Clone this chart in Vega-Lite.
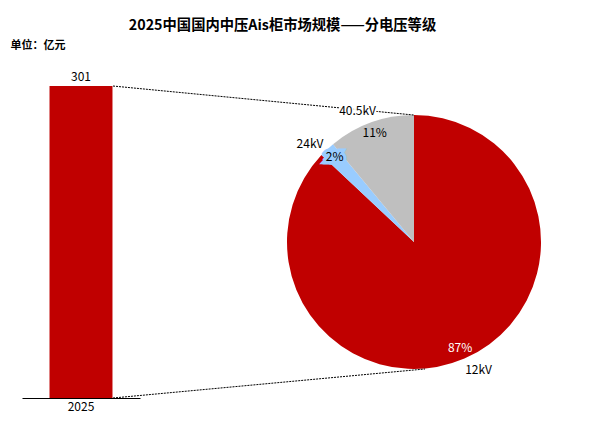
{
  "$schema": "https://vega.github.io/schema/vega-lite/v6.json",
  "width": 605,
  "height": 358,
  "autosize": {"type": "none"},
  "padding": {"top": 40, "left": 0, "right": 0, "bottom": 31},
  "background": "white",
  "config": {"view": {"stroke": null}, "font": "Noto Sans CJK SC", "text": {"font": "Noto Sans CJK SC"}},
  "title": {"text": "2025中国国内中压Ais柜市场规模——分电压等级", "fontSize": 14.3, "fontWeight": "bold", "color": "#000000", "font": "Noto Sans CJK SC", "anchor": "middle", "frame": "group", "dx": -20, "offset": 6},
  "datasets": {
    "market": [{"年份": "2025", "市场规模": 301}],
    "share": [
      {"电压等级": "12kV", "占比": 0.87},
      {"电压等级": "24kV", "占比": 0.02},
      {"电压等级": "40.5kV", "占比": 0.11}
    ]
  },
  "layer": [
    {
      "data": {"name": "market"},
      "encoding": {
        "x": {"field": "年份", "type": "nominal", "scale": {"range": [22, 140], "paddingInner": 0, "paddingOuter": 0.437},
              "axis": {"title": null, "labelAngle": 0, "ticks": false, "domain": true, "domainColor": "#000000", "domainWidth": 1, "labelFontSize": 12, "labelColor": "#000000", "labelPadding": 3, "grid": false, "labelFont": "Noto Sans CJK SC"}},
        "y": {"field": "市场规模", "type": "quantitative", "scale": {"domain": [0, 345.4], "nice": false, "zero": true},
              "axis": {"title": "单位：亿元", "domain": false, "ticks": false, "labels": false, "grid": false, "orient": "left", "titleAngle": 0, "titleAlign": "left", "titleBaseline": "middle", "titleX": 10, "titleY": 5.5, "titleFontSize": 11, "titleFontWeight": "bold", "titleColor": "#000000", "titleFont": "Noto Sans CJK SC"}}
      },
      "layer": [
        {"mark": {"type": "bar", "color": "#C00000"}},
        {"mark": {"type": "text", "baseline": "alphabetic", "dy": -5, "fontSize": 12, "color": "#000000"},
         "encoding": {"text": {"field": "市场规模", "type": "quantitative"}}}
      ]
    },
    {
      "layer": [
        {
          "data": {"name": "share"},
          "mark": {"type": "arc", "radius": 127},
          "encoding": {
            "x": {"datum": 0.6843, "type": "quantitative", "scale": {"domain": [0, 1], "nice": false, "zero": false}, "axis": null},
            "y": {"datum": 150.5, "type": "quantitative"},
            "theta": {"field": "占比", "type": "quantitative", "stack": true},
            "color": {"field": "电压等级", "type": "nominal", "scale": {"domain": ["12kV", "24kV", "40.5kV"], "range": ["#C00000", "#99CCFF", "#BFBFBF"]}, "legend": null},
            "order": {"field": "电压等级", "sort": "ascending"}
          }
        },
        {
          "data": {"name": "market"},
          "mark": {"type": "rule", "strokeDash": [2, 1], "color": "#000000", "strokeWidth": 1},
          "encoding": {
            "x": {"datum": 0.1868, "type": "quantitative", "scale": {"domain": [0, 1], "nice": false, "zero": false}, "axis": null},
            "x2": {"datum": 0.6843},
            "y": {"field": "市场规模", "type": "quantitative"},
            "y2": {"datum": 273}
          }
        },
        {
          "data": {"name": "market"},
          "mark": {"type": "rule", "strokeDash": [2, 1], "color": "#000000", "strokeWidth": 1},
          "encoding": {
            "x": {"datum": 0.1868, "type": "quantitative", "scale": {"domain": [0, 1], "nice": false, "zero": false}, "axis": null},
            "x2": {"datum": 0.7025},
            "y": {"datum": 0, "type": "quantitative"},
            "y2": {"datum": 28}
          }
        },
        {
          "data": {"name": "share"},
          "mark": {"type": "text", "radius": 143, "thetaOffset": -0.06, "fontSize": 12, "fill": "#FFFFFF", "stroke": "#FFFFFF", "strokeWidth": 4},
          "encoding": {
            "x": {"datum": 0.6843, "type": "quantitative", "scale": {"domain": [0, 1], "nice": false, "zero": false}, "axis": null},
            "y": {"datum": 150.5, "type": "quantitative"},
            "theta": {"field": "占比", "type": "quantitative", "stack": true},
            "detail": {"field": "电压等级", "type": "nominal"},
            "order": {"field": "电压等级", "sort": "ascending"},
            "text": {"field": "电压等级", "type": "nominal"}
          }
        },
        {
          "data": {"name": "share"},
          "mark": {"type": "text", "radius": 143, "thetaOffset": -0.06, "fontSize": 12, "color": "#000000"},
          "encoding": {
            "x": {"datum": 0.6843, "type": "quantitative", "scale": {"domain": [0, 1], "nice": false, "zero": false}, "axis": null},
            "y": {"datum": 150.5, "type": "quantitative"},
            "theta": {"field": "占比", "type": "quantitative", "stack": true},
            "detail": {"field": "电压等级", "type": "nominal"},
            "order": {"field": "电压等级", "sort": "ascending"},
            "text": {"field": "电压等级", "type": "nominal"}
          }
        },
        {
          "data": {"name": "share"},
          "mark": {"type": "text", "radius": 116, "fontSize": 12, "fill": "#99CCFF", "stroke": "#99CCFF", "strokeWidth": 7, "strokeJoin": "miter"},
          "encoding": {
            "x": {"datum": 0.6843, "type": "quantitative", "scale": {"domain": [0, 1], "nice": false, "zero": false}, "axis": null},
            "y": {"datum": 150.5, "type": "quantitative"},
            "theta": {"field": "占比", "type": "quantitative", "stack": true},
            "detail": {"field": "电压等级", "type": "nominal"},
            "order": {"field": "电压等级", "sort": "ascending"},
            "text": {"field": "占比", "type": "quantitative", "format": ".0%"},
            "opacity": {"condition": {"test": "datum['电压等级'] === '24kV'", "value": 1}, "value": 0}
          }
        },
        {
          "data": {"name": "share"},
          "mark": {"type": "text", "radius": 116, "fontSize": 12},
          "encoding": {
            "x": {"datum": 0.6843, "type": "quantitative", "scale": {"domain": [0, 1], "nice": false, "zero": false}, "axis": null},
            "y": {"datum": 150.5, "type": "quantitative"},
            "theta": {"field": "占比", "type": "quantitative", "stack": true},
            "detail": {"field": "电压等级", "type": "nominal"},
            "order": {"field": "电压等级", "sort": "ascending"},
            "text": {"field": "占比", "type": "quantitative", "format": ".0%"},
            "color": {"condition": {"test": "datum['电压等级'] === '12kV'", "value": "#FFFFFF"}, "value": "#000000"}
          }
        }
      ]
    }
  ],
  "resolve": {"scale": {"x": "independent"}, "axis": {"x": "independent"}}
}
